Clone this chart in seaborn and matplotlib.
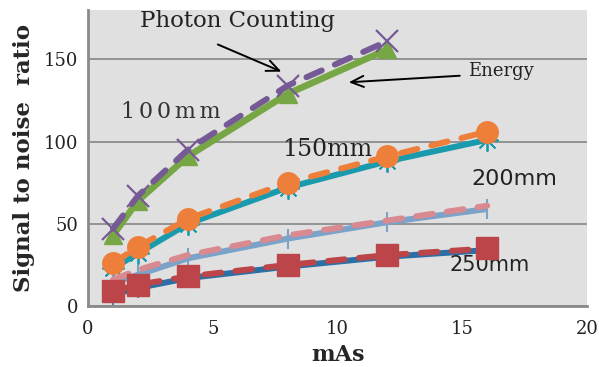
import matplotlib
matplotlib.use("Agg")
import matplotlib.pyplot as plt
import seaborn as sns
import pandas as pd

# ---- data ----
mas_100 = [1, 2, 4, 8, 12]
mas = [1, 2, 4, 8, 12, 16]
pc_100 = [47, 67, 95, 134, 161]
en_100 = [43, 64, 91, 129, 156]
pc_150 = [26, 36, 53, 75, 91, 106]
en_150 = [23, 32, 50, 72, 88, 101]
pc_200 = [16, 22, 31, 43, 52, 61]
en_200 = [14, 19, 29, 41, 51, 59]
pc_250 = [9, 13, 18, 25, 31, 35]
en_250 = [7, 11, 17, 24, 30, 34]
x_ticks = [0, 5, 10, 15, 20]
y_ticks = [0, 50, 100, 150]

sns.set_style("white")
plt.rcParams['font.family'] = ['DejaVu Serif', 'DejaVu Sans']

fig = plt.figure(figsize=(5.99, 3.67), dpi=100)
ax = fig.add_axes([0.147, 0.166, 0.833, 0.807])
ax.set_facecolor("#e0e0e0")

def draw(x, y, color, dashed, marker, ms, mew=1.0, lw=4.3, z=2):
    sns.lineplot(x=x, y=y, ax=ax, color=color,
                 marker=marker, markersize=ms,
                 markerfacecolor=color,
                 markeredgecolor=color, markeredgewidth=mew, zorder=z)
    ln = ax.lines[-1]
    ln.set_linewidth(lw)
    if dashed:
        ln.set_dashes([2.8, 2.4])
        ln.set_dash_capstyle('round')
    else:
        ln.set_solid_capstyle('butt')

# 100mm
draw(mas_100, en_100, "#77a644", False, "^", 13, lw=4.8, z=3)
draw(mas_100, pc_100, "#755a96", True, "x", 16, mew=1.6, z=4)
# 150mm
draw(mas, en_150, "#1a9aad", False, (8, 2, 0), 16, mew=1.3, z=3)
draw(mas, pc_150, "#ee7f3b", True, "o", 15.5, z=4)
# 200mm
draw(mas, en_200, "#7ba2c9", False, "|", 15, mew=1.5, z=3)
draw(mas, pc_200, "#d98a90", True, None, 1, z=4)
# 250mm
draw(mas, en_250, "#2c6fa5", False, "|", 14, mew=1.2, z=3)
draw(mas, pc_250, "#bb4548", True, "s", 15.5, z=4)

ax.set_xlim(0, 20)
ax.set_ylim(0, 180)
ax.set_xticks(x_ticks)
ax.set_yticks(y_ticks)
ax.tick_params(axis='x', length=0, labelsize=13, colors="#222222", pad=10)
ax.tick_params(axis='y', length=0, labelsize=13, colors="#222222", pad=7)
for s in ["top", "right"]:
    ax.spines[s].set_visible(False)
for s in ["left", "bottom"]:
    ax.spines[s].set_color("#8a8a8a")
    ax.spines[s].set_linewidth(2)
ax.grid(axis='y', color="#8c8c8c", linewidth=1.3)
ax.grid(axis='x', visible=False)
ax.set_axisbelow(True)

ax.set_xlabel("mAs", fontsize=16, fontweight='bold', labelpad=4)
ax.set_ylabel("Signal to noise  ratio", fontsize=16.5, fontweight='bold', labelpad=6)

arrow = dict(arrowstyle="->,head_length=0.9,head_width=0.4", color="black", lw=1.4,
             shrinkA=0, shrinkB=0)
ax.text(6.0, 173, "Photon Counting", fontsize=16.5, color="#222222", ha='center', va='center')
ax.annotate("", xy=(7.75, 142.5), xytext=(5.2, 159), arrowprops=arrow)
ax.text(16.55, 143, "Energy", fontsize=13, color="#222222", ha='center', va='center')
ax.annotate("", xy=(10.45, 136), xytext=(14.9, 140), arrowprops=arrow)
ax.text(3.3, 118, "1\u20060\u20060\u2006m\u2006m", fontsize=16, color="#333333",
        ha='center', va='center')
ax.text(9.6, 95, "150mm", fontsize=17, color="#222222", ha='center', va='center')
ax.text(17.1, 77, "200mm", fontsize=16, color="#222222", ha='center', va='center',
        family=['DejaVu Sans'])
ax.text(16.1, 25, "250mm", fontsize=15, color="#222222", ha='center', va='center',
        family=['DejaVu Sans'])

fig.savefig("out.png", dpi=100)
